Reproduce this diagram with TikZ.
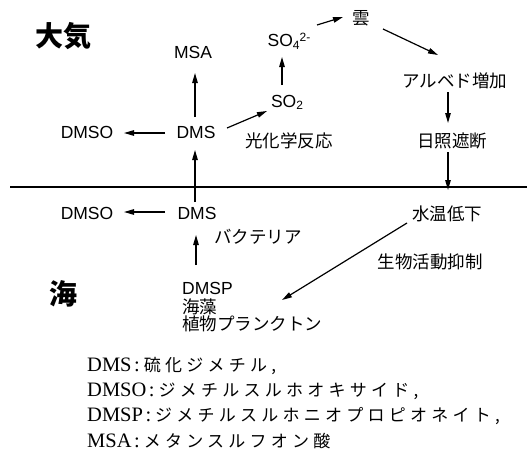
\documentclass[tikz,border=0pt]{standalone}
\usepackage{fontspec}
\setmainfont{Liberation Serif}
\newfontfamily\lsans{Liberation Sans}
\newfontfamily\jp{Noto Sans CJK JP}
\newfontfamily\jpwide[LetterSpace=25]{Noto Sans CJK JP}
\usetikzlibrary{arrows.meta,calc}
\newcommand{\diagLat}{\lsans\fontsize{17.5}{20}\selectfont}
\newcommand{\diagJp}{\jp\fontsize{17.5}{20}\selectfont}
\newcommand{\legLat}{\fontsize{20.5}{22}\selectfont}
\newcommand{\legJp}{\jpwide\fontsize{17}{22}\selectfont}
\newcommand{\legSep}{\hspace{2.5pt}:\hspace{4pt}}
\begin{document}
\begin{tikzpicture}[x=1pt,y=-1pt,
  lbl/.style={inner sep=0pt,font=\diagLat},
  jlbl/.style={inner sep=0pt,font=\diagJp},
  big/.style={inner sep=0pt,font=\jp\bfseries\fontsize{28}{30}\selectfont},
  lgd/.style={inner sep=0pt,anchor=base west,font=\legLat},
  arr/.style={line width=1.2pt,-{Triangle[length=10pt,width=5.5pt]}}]
\useasboundingbox (0,0) rectangle (527,461);
% labels
\node[big] (taiki) at (63,36) {大気};
\node[big] (umi) at (63,294) {海};
\node[lbl] (msa) at (193,52) {MSA};
\node[lbl] (dmsA) at (196,132) {DMS};
\node[lbl] (dmsoA) at (87,132) {DMSO};
\node[lbl] (so2) at (287,102) {SO{\fontsize{12}{12}\selectfont\raisebox{-0.35ex}{2}}};
\node[lbl] (so4) at (289,41) {SO{\fontsize{12}{12}\selectfont\raisebox{-0.35ex}{4}\raisebox{0.9ex}{2-}}};
\node[jlbl] (koukagaku) at (289,141) {光化学反応};
\node[jlbl] (kumo) at (361,18) {雲};
\node[jlbl] (albedo) at (455,81) {アルベド増加};
\node[jlbl] (nissho) at (452,141) {日照遮断};
\node[lbl] (dmsB) at (197,213) {DMS};
\node[lbl] (dmsoB) at (87,213) {DMSO};
\node[jlbl] (bact) at (258,237) {バクテリア};
\node[lbl,anchor=west] (dmsp) at (182,288) {DMSP};
\node[jlbl,anchor=west] (kaiso) at (182,307) {海藻};
\node[jlbl,anchor=west] (plank) at (182,324) {植物プランクトン};
\node[jlbl] (suion) at (447,214) {水温低下};
\node[jlbl] (seibutsu) at (430,262) {生物活動抑制};
% sea surface
\coordinate (surfL) at (10,187);
\coordinate (surfR) at (527,187);
\draw[line width=1.4pt] (surfL) -- (surfR);
% arrows
\draw[arr] ($(dmsA)+(-31,1)$) -- ($(dmsoA)+(37,1)$);
\draw[arr] ($(dmsA)+(-1,-15)$) -- ($(msa)+(2,21)$);
\draw[arr] ($(dmsA)+(31,-4)$) -- ($(so2)+(-20,9)$);
\draw[arr] ($(so2)+(-5,-17)$) -- ($(so4)+(-7,16)$);
\draw[arr] ($(so4)+(28,-16)$) -- ($(kumo)+(-18,-1)$);
\draw[arr] ($(kumo)+(22,11)$) -- ($(albedo)+(-17,-26)$);
\draw[arr] ($(albedo)+(-7,11)$) -- ($(nissho)+(-4,-18)$);
\draw[arr] ($(nissho)+(-4,11)$) -- ($(suion)+(1,-24)$);
\draw[arr] ($(dmsB)+(-2,-11)$) -- ($(dmsA)+(-1,18)$);
\draw[arr] ($(dmsB)+(-32,-1)$) -- ($(dmsoB)+(37,-1)$);
\draw[arr] ($(dmsp.west)+(14,-23)$) -- ($(dmsB)+(-1,22)$);
\draw[arr] ($(suion)+(-40,9)$) -- ($(plank.west)+(100,-24)$);
% legend
\node[lgd] (lg1) at (87,371) {DMS\legSep{\legJp 硫化ジメチル,}};
\node[lgd] (lg2) at (87,396) {DMSO\legSep{\legJp ジメチルスルホオキサイド,}};
\node[lgd] (lg3) at (87,421) {DMSP\legSep{\legJp ジメチルスルホニオプロピオネイト,}};
\node[lgd] (lg4) at (87,447) {MSA\legSep{\legJp メタンスルフオン酸}};
\end{tikzpicture}
\end{document}
